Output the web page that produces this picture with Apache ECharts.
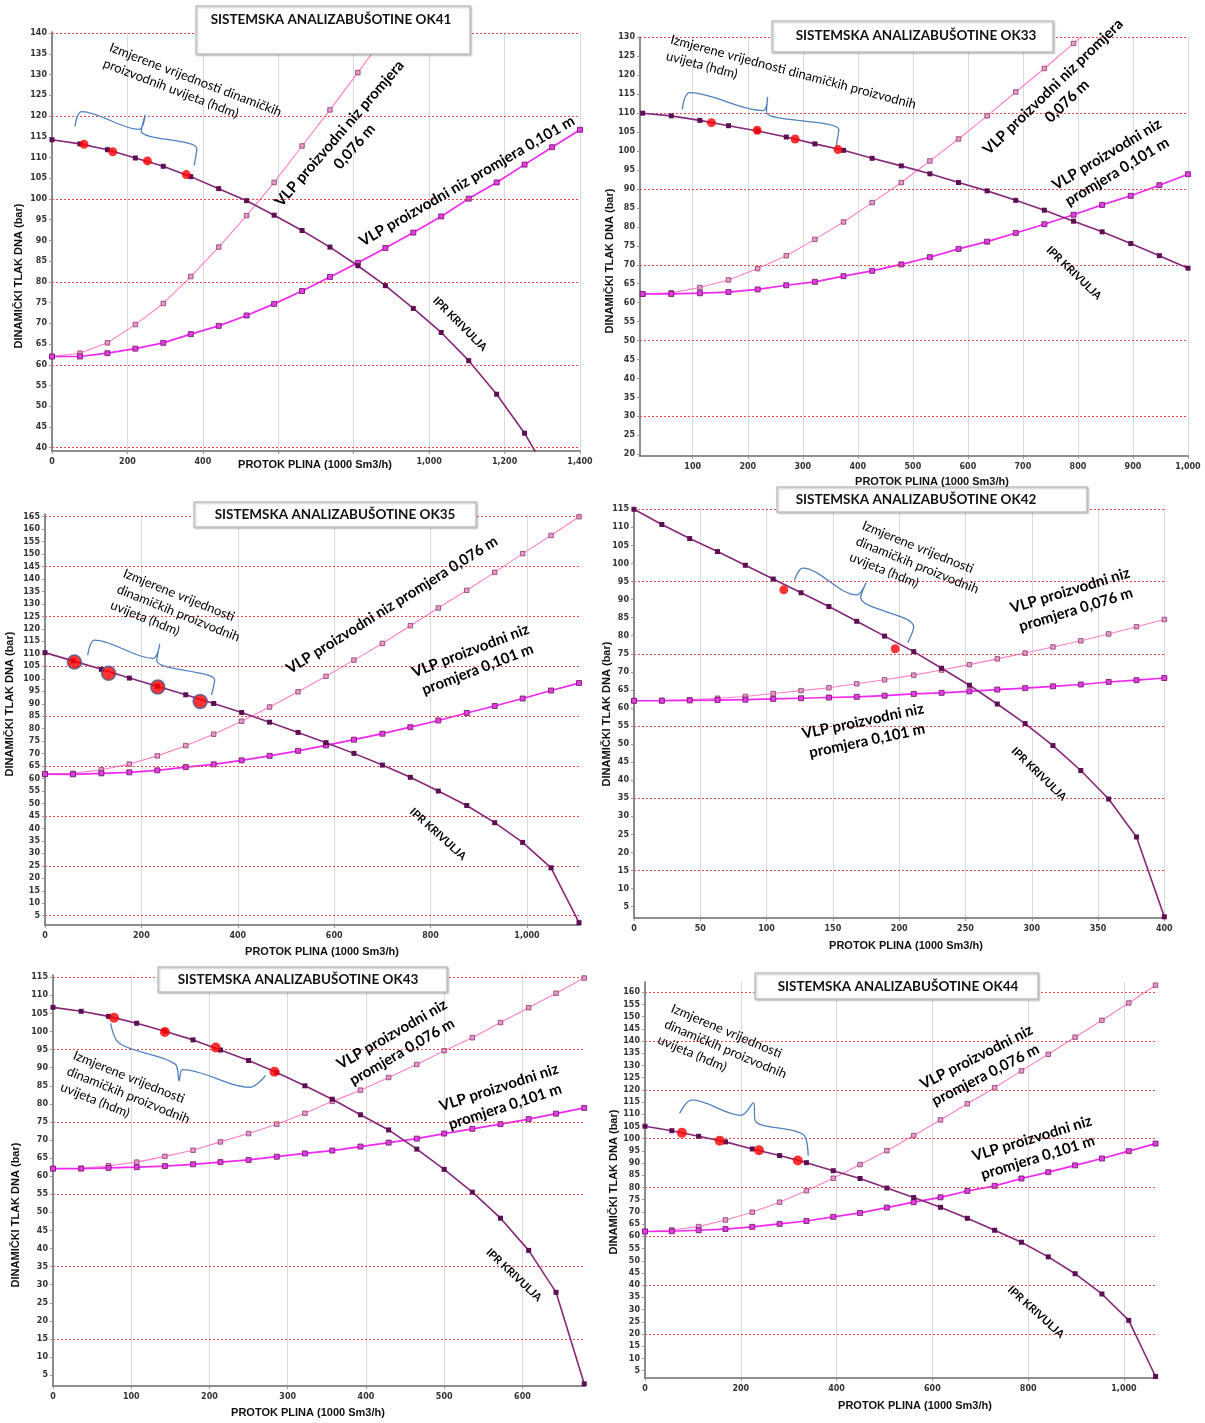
<!DOCTYPE html>
<html><head><meta charset="utf-8">
<script src="https://cdn.jsdelivr.net/npm/echarts@6/dist/echarts.min.js"></script>
<style>html,body{margin:0;padding:0;background:#fff}#c{width:1205px;height:1423px}</style>
</head><body><div id="c"></div>
<script>
// ---------------- DATA ----------------
// OK41
const ok41_x = [0,74,147,221,295,368,442,516,589,663,737,811,884,958,1032,1105,1179,1253,1326,1400];
const ok41_ipr = [114.3,113.3,111.9,109.9,107.9,105.4,102.5,99.6,96.1,92.4,88.4,83.9,79.1,73.6,67.8,61.0,52.9,43.5,32.0];
const ok41_vlp076 = [62.0,62.8,65.3,69.7,74.8,81.3,88.4,96.0,104.0,112.8,121.5,130.5,139.5,148.5];
const ok41_vlp101 = [62.0,62.0,62.8,63.9,65.3,67.4,69.4,71.9,74.7,77.8,81.2,84.6,88.2,91.9,95.8,100.1,104.0,108.3,112.5,116.7];
const ok41_measX = [85,161,253,356];
const ok41_measY = [113.2,111.4,109.2,105.9];
const ok41_braceX = [61,78.5,231,247,236.6,384,377];
const ok41_braceY = [117.5,121.1,116.8,120.3,116.4,112.2,108.1];
const ok41_xTicks = [0,200,400,600,800,1000,1200,1400];
const ok41_xLabels = [0,200,400,1000,1200,1400];
const ok41_yTicks = [40,45,50,55,60,65,70,75,80,85,90,95,100,105,110,115,120,125,130,135,140];
const ok41_redLines = [40,60,80,100,120,140];

// OK33
const ok33_x = [9,61,113,165,218,270,322,374,426,479,531,583,635,687,739,792,844,896,948,1000];
const ok33_ipr = [110.0,109.3,108.1,106.7,105.3,103.7,101.9,100.2,98.1,96.1,94.0,91.7,89.5,87.0,84.4,81.5,78.7,75.6,72.4,69.1];
const ok33_vlp076 = [62.3,62.6,64.0,66.0,69.0,72.4,76.7,81.3,86.4,91.7,97.4,103.2,109.3,115.6,121.8,128.4,135.0];
const ok33_vlp101 = [62.3,62.3,62.5,62.8,63.5,64.6,65.5,67.0,68.4,70.1,72.0,74.2,76.1,78.4,80.7,83.2,85.8,88.2,91.0,93.9];
const ok33_measX = [134,217,286,364];
const ok33_measY = [107.5,105.5,103.2,100.4];
const ok33_braceX = [81,94.3,227.8,236,234,365.5,360.6];
const ok33_braceY = [111.0,115.4,110.7,114.3,110.2,105.7,101.2];
const ok33_xTicks = [100,200,300,400,500,600,700,800,900,1000];
const ok33_xLabels = [100,200,300,400,500,600,700,800,900,1000];
const ok33_yTicks = [20,25,30,35,40,45,50,55,60,65,70,75,80,85,90,95,100,105,110,115,120,125,130];
const ok33_redLines = [30,50,70,90,110,130];

// OK35
const ok35_x = [0,58,117,175,233,292,350,408,466,525,583,641,700,758,816,875,933,991,1050,1108];
const ok35_ipr = [110.5,107.2,103.8,100.3,97.0,93.6,90.1,86.5,82.6,78.5,74.4,70.1,65.4,60.5,55.0,49.2,42.3,34.4,24.2,2.2];
const ok35_vlp076 = [61.8,62.1,63.5,65.8,69.1,73.2,77.8,83.0,88.7,94.8,101.0,107.5,114.2,121.3,128.4,135.5,142.7,150.2,157.5,165.0];
const ok35_vlp101 = [61.8,61.7,62.1,62.5,63.3,64.6,65.7,67.3,69.1,71.1,73.3,75.6,78.0,80.6,83.3,86.3,89.1,92.1,95.3,98.3];
const ok35_measX = [61,132,234,322];
const ok35_measY = [106.7,102.2,96.7,90.9];
const ok35_braceX = [88.6,103,224,238,232,352,345.6];
const ok35_braceY = [109.5,115.5,108.2,113.9,107.2,99.5,93.5];
const ok35_xTicks = [0,200,400,600,800,1000];
const ok35_xLabels = [0,200,400,600,800,1000];
const ok35_yTicks = [5,10,15,20,25,30,35,40,45,50,55,60,65,70,75,80,85,90,95,100,105,110,115,120,125,130,135,140,145,150,155,160,165];
const ok35_redLines = [5,25,45,65,85,105,125,145,165];

// OK42
const ok42_x = [0,21,42,63,84,105,126,147,168,189,211,232,253,274,295,316,337,358,379,400];
const ok42_ipr = [115.0,110.8,106.9,103.3,99.5,95.7,91.9,88.1,84.0,79.9,75.6,71.0,66.3,61.1,55.7,49.6,42.7,34.8,24.3,2.2];
const ok42_vlp076 = [62.0,62.1,62.3,62.7,63.2,64.0,64.8,65.6,66.7,67.8,69.1,70.5,72.0,73.6,75.2,76.9,78.6,80.5,82.5,84.5];
const ok42_vlp101 = [62.0,62.0,62.1,62.2,62.3,62.5,62.7,62.9,63.1,63.4,63.9,64.2,64.6,65.1,65.5,66.0,66.5,67.2,67.7,68.3];
const ok42_measX = [113,197];
const ok42_measY = [92.7,76.4];
const ok42_braceX = [121,127.3,168,175,171,211,206.5];
const ok42_braceY = [95.3,98.7,91.3,94.7,90.6,82.5,78.1];
const ok42_xTicks = [0,50,100,150,200,250,300,350,400];
const ok42_xLabels = [0,50,100,150,200,250,300,350,400];
const ok42_yTicks = [5,10,15,20,25,30,35,40,45,50,55,60,65,70,75,80,85,90,95,100,105,110,115];
const ok42_redLines = [15,35,55,75,95,115];

// OK43
const ok43_x = [0,36,71,107,143,179,214,250,286,322,357,393,429,465,500,536,572,608,643,679];
const ok43_ipr = [106.7,105.6,104.2,102.3,100.1,97.7,94.9,92.0,88.7,85.0,81.3,77.0,72.8,67.5,61.9,55.6,48.4,39.5,27.9,2.6];
const ok43_vlp076 = [62.1,62.2,62.9,63.9,65.5,67.2,69.5,71.8,74.4,77.4,80.7,83.8,87.3,90.9,94.7,98.3,102.5,106.6,110.6,114.8];
const ok43_vlp101 = [62.1,62.1,62.3,62.5,62.8,63.3,63.9,64.5,65.4,66.3,67.1,68.2,69.3,70.4,71.8,73.1,74.4,75.8,77.3,78.9];
const ok43_measX = [78,143,208,283];
const ok43_measY = [103.8,99.9,95.6,88.9];
const ok43_braceX = [73.7,85,156.3,161.2,166,252,271.7];
const ok43_braceY = [102.3,96.7,91.0,86.4,89.5,84.6,87.9];
const ok43_xTicks = [0,100,200,300,400,500,600];
const ok43_xLabels = [0,100,200,300,400,500,600];
const ok43_yTicks = [5,10,15,20,25,30,35,40,45,50,55,60,65,70,75,80,85,90,95,100,105,110,115];
const ok43_redLines = [15,35,55,75,95,115];

// OK44
const ok44_x = [0,56,112,168,224,281,337,393,449,505,561,617,673,730,786,842,898,954,1010,1066];
const ok44_ipr = [105.1,103.3,101.0,98.7,95.8,93.1,90.2,86.9,83.7,79.8,75.9,71.9,67.4,62.5,57.6,51.6,44.7,36.4,25.6,2.6];
const ok44_vlp076 = [62.0,62.6,64.0,66.7,69.9,74.0,78.7,83.8,89.4,95.1,101.3,107.7,114.3,120.9,127.8,134.6,141.6,148.5,155.6,162.9];
const ok44_vlp101 = [62.0,62.1,62.5,63.0,63.9,65.1,66.3,68.0,69.6,71.8,74.0,76.0,78.6,80.7,83.7,86.3,89.1,91.9,94.9,98.0];
const ok44_measX = [77,156,238,319];
const ok44_measY = [102.4,99.2,95.3,91.1];
const ok44_braceX = [72.3,98,200.8,226.5,230.5,331,340.6];
const ok44_braceY = [110.4,115.9,109.6,114.8,107.2,101.6,93.0];
const ok44_xTicks = [0,200,400,600,800,1000];
const ok44_xLabels = [0,200,400,600,800,1000];
const ok44_yTicks = [5,10,15,20,25,30,35,40,45,50,55,60,65,70,75,80,85,90,95,100,105,110,115,120,125,130,135,140,145,150,155,160];
const ok44_redLines = [20,40,60,80,100,120,140,160];

// ---------------- LAYOUT ----------------
const TITLE_PREFIX = 'SISTEMSKA ANALIZABUŠOTINE ';
const panels = [
  {name:'OK41', x:ok41_x, ipr:ok41_ipr, v076:ok41_vlp076, v101:ok41_vlp101, mx:ok41_measX, my:ok41_measY, bx:ok41_braceX, by:ok41_braceY, xt:ok41_xTicks, xl:ok41_xLabels, yt:ok41_yTicks, red:ok41_redLines,
   grid:{left:52,top:32,width:528,height:419}, xr:[0,1400], yr:[39.2,140.3], measSize:9, measBorder:0},
  {name:'OK33', x:ok33_x, ipr:ok33_ipr, v076:ok33_vlp076, v101:ok33_vlp101, mx:ok33_measX, my:ok33_measY, bx:ok33_braceX, by:ok33_braceY, xt:ok33_xTicks, xl:ok33_xLabels, yt:ok33_yTicks, red:ok33_redLines,
   grid:{left:640,top:37,width:548,height:419}, xr:[4.2,1000], yr:[19.55,130.1], measSize:9, measBorder:0},
  {name:'OK35', x:ok35_x, ipr:ok35_ipr, v076:ok35_vlp076, v101:ok35_vlp101, mx:ok35_measX, my:ok35_measY, bx:ok35_braceX, by:ok35_braceY, xt:ok35_xTicks, xl:ok35_xLabels, yt:ok35_yTicks, red:ok35_redLines,
   grid:{left:45,top:514,width:535,height:411}, xr:[0,1110], yr:[1.27,166.1], measSize:14, measBorder:1.5},
  {name:'OK42', x:ok42_x, ipr:ok42_ipr, v076:ok42_vlp076, v101:ok42_vlp101, mx:ok42_measX, my:ok42_measY, bx:ok42_braceX, by:ok42_braceY, xt:ok42_xTicks, xl:ok42_xLabels, yt:ok42_yTicks, red:ok42_redLines,
   grid:{left:634,top:508,width:531,height:410}, xr:[0,400.5], yr:[1.87,115.36], measSize:9, measBorder:0},
  {name:'OK43', x:ok43_x, ipr:ok43_ipr, v076:ok43_vlp076, v101:ok43_vlp101, mx:ok43_measX, my:ok43_measY, bx:ok43_braceX, by:ok43_braceY, xt:ok43_xTicks, xl:ok43_xLabels, yt:ok43_yTicks, red:ok43_redLines,
   grid:{left:53,top:975,width:532,height:411}, xr:[0,680], yr:[2.0,115.64], measSize:10, measBorder:0},
  {name:'OK44', x:ok44_x, ipr:ok44_ipr, v076:ok44_vlp076, v101:ok44_vlp101, mx:ok44_measX, my:ok44_measY, bx:ok44_braceX, by:ok44_braceY, xt:ok44_xTicks, xl:ok44_xLabels, yt:ok44_yTicks, red:ok44_redLines,
   grid:{left:645,top:982,width:512,height:396}, xr:[0,1069], yr:[1.98,164.2], measSize:10, measBorder:0}
];

const titleBoxes = [
  {box:[196,6,274,48], c:[331,20]},
  {box:[772,21,281,31], c:[916,36]},
  {box:[194,502,282,25], c:[335,515]},
  {box:[777,487,310,25], c:[916,500]},
  {box:[158,967,289,25], c:[298,980]},
  {box:[755,973,283,26], c:[898,987]}
];
const yNamePos = [[19,276],[610,261],[10,704],[607,714],[16,1215],[614,1182]];
const xNamePos = [[315,465],[932,482],[322,952],[906,946],[308,1413],[915,1406]];

const T_IZM2 = 'Izmjerene vrijednosti dinamičkih\nproizvodnih uvijeta (hdm)';
const T_IZM_OK33 = 'Izmjerene vrijednosti dinamičkih proizvodnih\nuvijeta (hdm)';
const T_IZM3 = 'Izmjerene vrijednosti\ndinamičkih proizvodnih\nuvijeta (hdm)';
const T_V076a = 'VLP proizvodni niz promjera\n0,076 m';
const T_V076b = 'VLP proizvodni niz promjera 0,076 m';
const T_V076c = 'VLP proizvodni niz\npromjera 0,076 m';
const T_V101a = 'VLP proizvodni niz promjera 0,101 m';
const T_V101c = 'VLP proizvodni niz\npromjera 0,101 m';
const T_IPR = 'IPR KRIVULJA';

// [text, x, y, deg, kind] kind: izm(left/top), vlp(center), ipr(center)
const notes = [
  [T_IZM2, 113, 39, -21, 'izm'], [T_V076a, 347, 140, 49, 'vlp'], [T_V101a, 467, 181, 30, 'vlp'], [T_IPR, 460, 324, -45, 'ipr'],
  [T_IZM_OK33, 673, 31, -15, 'izm'], [T_V076a, 1060, 94, 44, 'vlp'], [T_V101c, 1112, 163, 31, 'vlp'], [T_IPR, 1074, 273, -44, 'ipr'],
  [T_IZM3, 127, 565, -22, 'izm'], [T_V076b, 392, 605, 32, 'vlp'], [T_V101c, 474, 660, 21, 'vlp'], [T_IPR, 438, 834, -42, 'ipr'],
  [T_IZM3, 866, 517, -22, 'izm'], [T_V076c, 1073, 600, 17, 'vlp'], [T_V101c, 865, 731, 12, 'vlp'], [T_IPR, 1039, 774, -44, 'ipr'],
  [T_IZM3, 77, 1047, -22, 'izm'], [T_V076c, 397, 1043, 30, 'vlp'], [T_V101c, 502, 1097, 18, 'vlp'], [T_IPR, 514, 1275, -43, 'ipr'],
  [T_IZM3, 675, 1000, -23, 'izm'], [T_V076c, 981, 1066, 27, 'vlp'], [T_V101c, 1035, 1148, 17, 'vlp'], [T_IPR, 1036, 1312, -42, 'ipr']
];

// ---------------- BUILD ----------------
function pairs(xs, ys){ const o=[]; for(let i=0;i<ys.length && i<xs.length;i++){ if(ys[i]!=null) o.push([xs[i],ys[i]]); } return o; }
function fmtThousands(v){ return String(v).replace(/\B(?=(\d{3})+(?!\d))/g, ','); }

const C_IPR = '#86277a', C_V101 = '#f028f0', C_V076 = '#ff80c6', C_RED = '#ff0000', C_BRACE = '#4f81bd';
const tickFont = {fontFamily:'"DejaVu Sans"', fontWeight:'bold', fontSize:8, color:'#333'};

const grids=[], xAxes=[], yAxes=[], series=[], graphics=[];
panels.forEach((p, i) => {
  grids.push(Object.assign({containLabel:false}, p.grid));
  xAxes.push({
    type:'value', gridIndex:i, min:p.xr[0], max:p.xr[1],
    axisLine:{show:true, onZero:false, lineStyle:{color:'#6a6a6a', width:1.5}},
    axisTick:{show:true, length:3, customValues:p.xt, lineStyle:{color:'#999'}},
    axisLabel:Object.assign({customValues:p.xl, margin:7, formatter:fmtThousands}, tickFont),
    splitLine:{show:true, lineStyle:{color:'#dadada', width:1}}
  });
  yAxes.push({
    type:'value', gridIndex:i, min:p.yr[0], max:p.yr[1],
    axisLine:{show:true, onZero:false, lineStyle:{color:'#6a6a6a', width:1.5}},
    axisTick:{show:true, length:3, customValues:p.yt, lineStyle:{color:'#999'}},
    axisLabel:Object.assign({customValues:p.yt, margin:5}, tickFont),
    splitLine:{show:false}
  });
  // red dotted reference lines
  series.push({type:'line', xAxisIndex:i, yAxisIndex:i, data:[], silent:true, z:1,
    markLine:{silent:true, symbol:'none', animation:false, label:{show:false},
      lineStyle:{color:'#e84a4a', type:[2,2], width:1},
      emphasis:{disabled:true},
      data:p.red.map(v=>({yAxis:v}))}});
  series.push({name:'VLP 0,076 m', type:'line', xAxisIndex:i, yAxisIndex:i, data:pairs(p.x,p.v076), z:3,
    lineStyle:{color:C_V076, width:1.1}, symbol:'rect', symbolSize:4.5,
    itemStyle:{color:'#e59ac9', borderColor:'#8a3a70', borderWidth:0.8}});
  series.push({name:'VLP 0,101 m', type:'line', xAxisIndex:i, yAxisIndex:i, data:pairs(p.x,p.v101), z:4,
    lineStyle:{color:C_V101, width:1.7}, symbol:'rect', symbolSize:5,
    itemStyle:{color:'#e23ee2', borderColor:'#6e1066', borderWidth:0.8}});
  series.push({name:'IPR', type:'line', xAxisIndex:i, yAxisIndex:i, data:pairs(p.x,p.ipr), z:5,
    lineStyle:{color:C_IPR, width:1.6}, symbol:'rect', symbolSize:5,
    itemStyle:{color:'#5c0f52', borderColor:'#5c0f52', borderWidth:0}});
  series.push({name:'hdm', type:'scatter', xAxisIndex:i, yAxisIndex:i, data:pairs(p.mx,p.my), z:7,
    symbol:'circle', symbolSize:p.measSize,
    itemStyle:{color:C_RED, borderColor:'#3f5f96', borderWidth:p.measBorder}});
  series.push({name:'brace', type:'line', xAxisIndex:i, yAxisIndex:i, data:pairs(p.bx,p.by), z:6,
    smooth:0.35, symbol:'none', lineStyle:{color:C_BRACE, width:1.3}, clip:false});

  const tb = titleBoxes[i];
  graphics.push({type:'rect', z:100, shape:{x:tb.box[0], y:tb.box[1], width:tb.box[2], height:tb.box[3]},
    style:{fill:'#fff', stroke:'#c4c4c4', lineWidth:1.5, shadowBlur:2, shadowOffsetX:1, shadowOffsetY:1, shadowColor:'rgba(0,0,0,0.25)'}});
  graphics.push({type:'text', z:101, x:tb.c[0], y:tb.c[1],
    style:{text:TITLE_PREFIX+p.name, font:'bold 13.5px Lato', fill:'#111', align:'center', verticalAlign:'middle', textAlign:'center', textVerticalAlign:'middle'}});
  graphics.push({type:'text', z:101, x:yNamePos[i][0], y:yNamePos[i][1], rotation:Math.PI/2,
    style:{text:'DINAMIČKI TLAK DNA (bar)', font:'bold 11px "Liberation Sans"', fill:'#111', align:'center', verticalAlign:'middle', textAlign:'center', textVerticalAlign:'middle'}});
  graphics.push({type:'text', z:101, x:xNamePos[i][0], y:xNamePos[i][1],
    style:{text:'PROTOK PLINA (1000 Sm3/h)', font:'bold 11px "Liberation Sans"', fill:'#111', align:'center', verticalAlign:'middle', textAlign:'center', textVerticalAlign:'middle'}});
});

notes.forEach(n => {
  const [text, x, y, deg, kind] = n;
  let style;
  if (kind === 'izm') style = {text, font:'13px Lato', fill:'#000', align:'left', verticalAlign:'top', textAlign:'left', textVerticalAlign:'top', lineHeight:17};
  else if (kind === 'vlp') style = {text, font:'bold 15px Lato', fill:'#000', align:'center', verticalAlign:'middle', textAlign:'center', textVerticalAlign:'middle', lineHeight:20};
  else style = {text, font:'bold 11px Lato', fill:'#000', align:'center', verticalAlign:'middle', textAlign:'center', textVerticalAlign:'middle'};
  graphics.push({type:'text', z:90, x, y, rotation:deg*Math.PI/180, style});
});

const chart = echarts.init(document.getElementById('c'), null, {renderer:'canvas'});
chart.setOption({
  backgroundColor:'#fff',
  animation:false,
  grid:grids, xAxis:xAxes, yAxis:yAxes, series:series,
  graphic:{elements:graphics}
});
</script></body></html>
